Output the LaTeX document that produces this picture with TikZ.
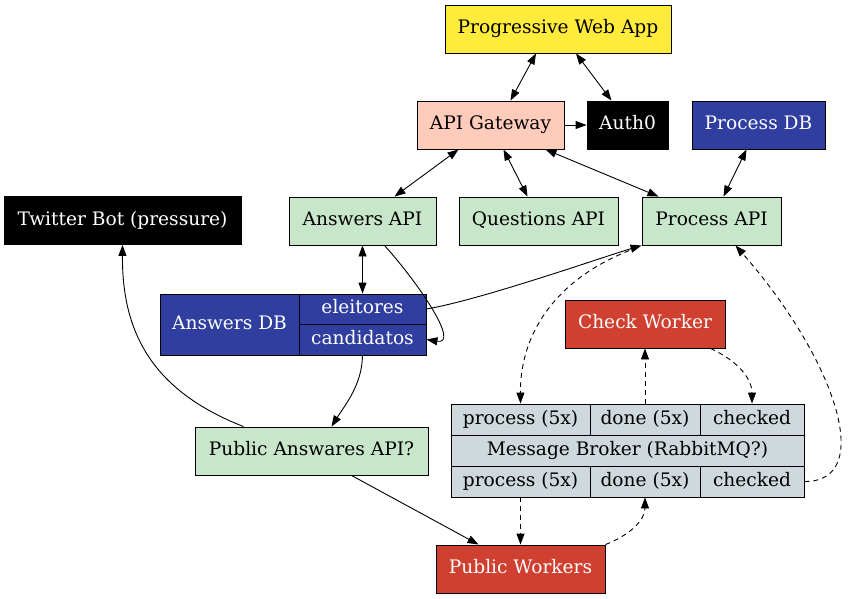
\documentclass[tikz,border=0pt]{standalone}
\usepackage{fontspec}
\setmainfont{DejaVu Serif}
\usetikzlibrary{arrows.meta}
\definecolor{appyellow}{HTML}{FFEB3B}
\definecolor{gatepeach}{HTML}{FFCCBC}
\definecolor{apigreen}{HTML}{C8E6C9}
\definecolor{dbblue}{HTML}{303F9F}
\definecolor{workred}{HTML}{D04030}
\definecolor{brokergray}{HTML}{CFD8DC}

\begin{document}
\begin{tikzpicture}[x=1pt,y=-1pt]
\tikzstyle{every node}=[draw, rectangle, line width=0.9pt, inner sep=0pt, minimum height=48, text height=13.5pt, text depth=4pt, font=\fontsize{18.6}{22}\selectfont]
\tikzstyle{cell}=[minimum height=31, fill=brokergray]
\tikzstyle{dark}=[text=white]
\tikzstyle{link}=[line width=0.9pt, -{Triangle[length=11pt,width=8pt]}]
\tikzstyle{both}=[line width=0.9pt, {Triangle[length=11pt,width=8pt]}-{Triangle[length=11pt,width=8pt]}]
\tikzstyle{queue}=[link, dash pattern=on 5pt off 4pt]
\useasboundingbox (0,0) rectangle (849,599);
% top row
\draw (558,29) node (pwa) [fill=appyellow, minimum width=226] {Progressive Web App};
\draw (490.5,125) node (gw) [fill=gatepeach, minimum width=147] {API Gateway};
\draw (627.5,125) node (auth) [fill=black, dark, minimum width=81] {Auth0};
\draw (758.5,125) node (pdb) [fill=dbblue, dark, minimum width=133] {Process DB};
% apis
\draw (122.5,220.5) node (bot) [fill=black, dark, minimum width=237] {Twitter Bot (pressure)};
\draw (362.5,221) node (aapi) [fill=apigreen, minimum width=147] {Answers API};
\draw (538.5,221) node (qapi) [fill=apigreen, minimum width=159] {Questions API};
\draw (711.5,221) node (papi) [fill=apigreen, minimum width=139] {Process API};
% answers db record
\draw (229.5,324.5) node (adb) [fill=dbblue, dark, minimum width=139, minimum height=61] {Answers DB};
\draw (362.5,309) node (elei) [fill=dbblue, dark, minimum width=127, minimum height=30] {eleitores};
\draw (362.5,339.5) node (cand) [fill=dbblue, dark, minimum width=127, minimum height=31] {candidatos};
\draw (645,324) node (cw) [fill=workred, dark, minimum width=160] {Check Worker};
% broker record
\draw (520.5,419.5) node (bp1) [cell, minimum width=139] {process (5x)};
\draw (645,419.5) node (bd1) [cell, minimum width=110] {done (5x)};
\draw (752,419.5) node (bc1) [cell, minimum width=104] {checked};
\draw (627.5,450.5) node (mb) [cell, minimum width=353] {Message Broker (RabbitMQ?)};
\draw (520.5,481.5) node (bp2) [cell, minimum width=139] {process (5x)};
\draw (645,481.5) node (bd2) [cell, minimum width=110] {done (5x)};
\draw (752,481.5) node (bc2) [cell, minimum width=104] {checked};
\draw (311.5,451) node (pub) [fill=apigreen, minimum width=233] {Public Answares API?};
\draw (520.5,569) node (pw) [fill=workred, dark, minimum width=169] {Public Workers};
% links
\draw[both] ([xshift=-22]pwa.south) -- ([xshift=20]gw.north);
\draw[both] ([xshift=18]pwa.south) -- ([xshift=-16]auth.north);
\draw[link] (gw.east) -- (auth.west);
\draw[both] ([xshift=-12]pdb.south) -- ([xshift=12]papi.north);
\draw[both] ([xshift=-32]gw.south) -- ([xshift=32]aapi.north);
\draw[both] ([xshift=13]gw.south) -- ([xshift=-11]qapi.north);
\draw[both] ([xshift=55]gw.south) -- ([xshift=-53]papi.north);
\draw[both] (aapi.south) -- (elei.north);
\draw[link] ([xshift=22]aapi.south) .. controls (420,285) and (460,345) .. (cand.east);
\draw[link] (elei.east) .. controls (480,300) and (600,258) .. (papi.south west);
\draw[link] (cand.south) .. controls (362,385) and (345,405) .. ([xshift=20]pub.north);
\draw[link] ([xshift=-68]pub.north) .. controls (150,390) and (122,330) .. (bot.south);
\draw[link] ([xshift=40]pub.south) -- ([xshift=-42]pw.north);
% queues
\draw[queue] ([xshift=-4,yshift=-2]papi.south west) .. controls (560,275) and (520,330) .. (bp1.north);
\draw[queue] (bd1.north) -- (cw.south);
\draw[queue] ([xshift=-15]cw.south east) .. controls (740,362) and (752,380) .. (bc1.north);
\draw[queue] (bc2.east) .. controls (876,482) and (836,360) .. ([xshift=24]papi.south);
\draw[queue] (bp2.south) -- (pw.north);
\draw[queue] (pw.north east) .. controls (630,535) and (645,520) .. (bd2.south);
\end{tikzpicture}
\end{document}
